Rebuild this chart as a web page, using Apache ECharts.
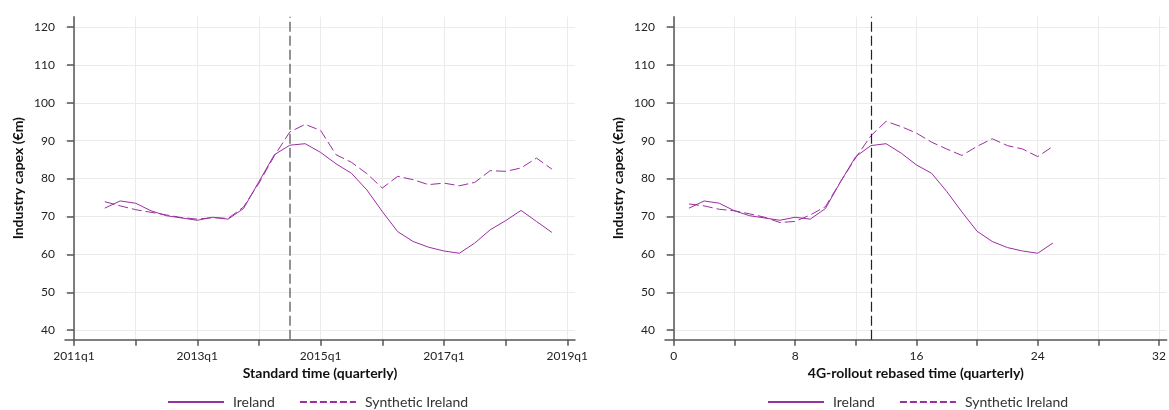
<!DOCTYPE html>
<html><head><meta charset="utf-8">
<script src="https://cdn.jsdelivr.net/npm/echarts@6/dist/echarts.min.js"></script>
<style>html,body{margin:0;padding:0;background:#fff}#c{width:1169px;height:410px}</style>
</head><body><div id="c"></div>
<script>
// ---- data ----
const stdQuarters = ['2011q3','2011q4','2012q1','2012q2','2012q3','2012q4','2013q1','2013q2','2013q3','2013q4',
  '2014q1','2014q2','2014q3','2014q4','2015q1','2015q2','2015q3','2015q4','2016q1','2016q2',
  '2016q3','2016q4','2017q1','2017q2','2017q3','2017q4','2018q1','2018q2','2018q3','2018q4'];
const irelandStd = [72.2,74.1,73.5,71.5,70.2,69.6,69.0,69.8,69.3,72.1,79.2,86.3,
  88.8,89.2,86.9,83.9,81.4,77.0,71.3,66.0,63.4,61.9,60.9,60.3,63.0,66.5,68.9,71.6,68.7,65.8];
const synthStd = [73.9,72.8,71.8,71.1,70.4,69.7,69.3,69.7,69.5,72.5,78.8,86.0,
  92.3,94.3,92.7,86.3,84.3,81.3,77.5,80.6,79.7,78.4,78.8,78.1,79.0,82.1,81.9,82.8,85.4,82.5];
const stdRollout = '2014q3';
const stdTickQuarters = ['2011q1','2012q1','2013q1','2014q1','2015q1','2016q1','2017q1','2018q1','2019q1'];
const stdTickLabels = ['2011q1','2013q1','2015q1','2017q1','2019q1'];

const rebasedTime = [1,2,3,4,5,6,7,8,9,10,11,12,13,14,15,16,17,18,19,20,21,22,23,24,25];
const irelandRebased = [72.2,74.1,73.5,71.5,70.2,69.6,69.0,69.8,69.3,72.1,79.2,85.8,
  88.7,89.2,86.7,83.6,81.4,76.6,71.2,66.1,63.4,61.8,60.9,60.3,63.0];
const synthRebased = [73.3,72.8,71.9,71.5,70.7,69.8,68.4,68.7,70.4,72.6,79.2,85.5,
  91.3,95.1,93.7,92.0,89.6,87.8,86.1,88.5,90.5,88.7,87.8,85.8,88.5];
const rebasedRollout = 13;
const rebasedTicks = [0,4,8,12,16,20,24,28,32];
const rebasedTickLabels = [0,8,16,24,32];

const yTicks = [40,50,60,70,80,90,100,110,120];
const yName = 'Industry capex (€m)';

// ---- helpers ----
function qIndex(s){ const y = +s.slice(0,4), q = +s.slice(5); return (y-2011)*4 + (q-1); }
const labelByIndex = {};
stdTickLabels.forEach(l => { labelByIndex[qIndex(l)] = l; });

const lineColor = '#9a2fa0';
const axisStyle = {color:'#555', width:1.5};
const font = 'Lato';

function xAxis(gridIndex, ticks, labels, fmt, name){
  return {
    type:'value', gridIndex, min:-0.58, max:32.5,
    name, nameLocation:'middle', nameGap:25,
    nameTextStyle:{fontFamily:font, fontWeight:'bold', fontSize:14, color:'#111'},
    axisLine:{show:true, onZero:false, lineStyle:axisStyle},
    axisTick:{show:true, length:6, customValues:ticks, lineStyle:axisStyle},
    axisLabel:{customValues:labels, formatter:fmt, fontFamily:font, fontSize:12, color:'#222', margin:10},
    splitLine:{show:true, lineStyle:{color:'#ebebeb', width:1}}
  };
}
function yAxis(gridIndex){
  return {
    type:'value', gridIndex, min:37.5, max:122.7,
    name:yName, nameLocation:'middle', nameGap:40,
    nameTextStyle:{fontFamily:font, fontWeight:'bold', fontSize:14, color:'#111'},
    axisLine:{show:true, lineStyle:axisStyle},
    axisTick:{show:true, length:7, customValues:yTicks, lineStyle:axisStyle},
    axisLabel:{customValues:yTicks, fontFamily:font, fontSize:12, color:'#222', margin:10},
    splitLine:{show:true, lineStyle:{color:'#ebebeb', width:1}}
  };
}
function lineSeries(name, xi, data, dashed, mark){
  const s = {
    type:'line', name, xAxisIndex:xi, yAxisIndex:xi, data,
    symbol:'none', showSymbol:false, smooth:false,
    lineStyle:{color:lineColor, width:1, type: dashed ? [10,4] : 'solid'},
    itemStyle:{color:lineColor}, z: 3
  };
  if (mark) s.markLine = mark;
  return s;
}
function vline(x, color, width){
  return {symbol:'none', silent:true, label:{show:false}, animation:false,
    lineStyle:{color, width, type:[10,4]}, data:[{xAxis:x}]};
}

const legendCommon = {
  itemWidth:56, itemHeight:14, itemGap:24, top:395, padding:0,
  itemStyle:{opacity:0},
  textStyle:{fontFamily:font, fontSize:14, color:'#333', padding:[0,0,0,4]},
  data:[{name:'Ireland'}, {name:'Synthetic Ireland', lineStyle:{type:[7,3]}}]
};

const chart = echarts.init(document.getElementById('c'), null, {renderer:'canvas'});
chart.setOption({
  animation:false,
  backgroundColor:'#fff',
  grid:[
    {left:65, top:16.7, width:510, height:323},
    {left:665, top:16.7, width:510, height:323}
  ],
  xAxis:[
    xAxis(0, stdTickQuarters.map(qIndex), stdTickLabels.map(qIndex), v => labelByIndex[Math.round(v)] || '', 'Standard time (quarterly)'),
    xAxis(1, rebasedTicks, rebasedTickLabels, v => String(v), '4G-rollout rebased time (quarterly)')
  ],
  yAxis:[ yAxis(0), yAxis(1) ],
  legend:[
    Object.assign({}, legendCommon, {left:167}),
    Object.assign({}, legendCommon, {left:767})
  ],
  series:[
    lineSeries('Ireland', 0, stdQuarters.map((q,k)=>[qIndex(q), irelandStd[k]]), false, vline(qIndex(stdRollout), '#707070', 1.5)),
    lineSeries('Synthetic Ireland', 0, stdQuarters.map((q,k)=>[qIndex(q), synthStd[k]]), true),
    lineSeries('Ireland', 1, rebasedTime.map((t,k)=>[t, irelandRebased[k]]), false, vline(rebasedRollout, '#222', 1.2)),
    lineSeries('Synthetic Ireland', 1, rebasedTime.map((t,k)=>[t, synthRebased[k]]), true)
  ]
});
</script></body></html>
